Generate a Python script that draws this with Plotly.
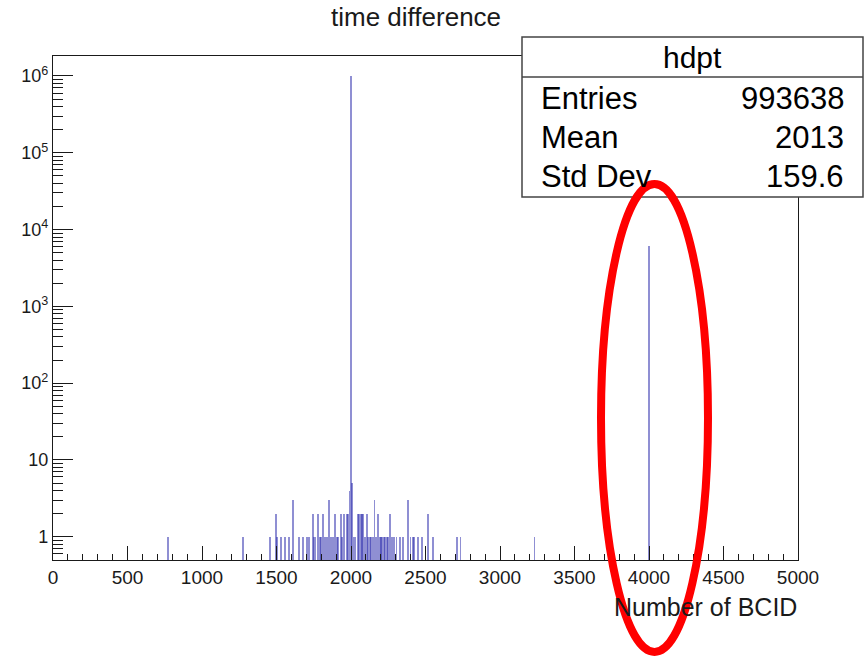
import plotly.graph_objects as go

# ---- data ----
bcid = [774, 1273, 1456, 1494, 1501, 1528, 1557, 1586, 1613, 1653, 1676, 1703,
        1720, 1743, 1752, 1762, 1781, 1790, 1800, 1814, 1822, 1832, 1842, 1852,
        1862, 1872, 1882, 1893, 1905, 1915, 1931, 1940, 1953, 1971, 1982, 1990,
        2000, 2008, 2020, 2030, 2045, 2055, 2065, 2075, 2083, 2095, 2105, 2115,
        2125, 2135, 2145, 2157, 2170, 2183, 2192, 2200, 2210, 2220, 2230, 2240,
        2250, 2262, 2275, 2290, 2306, 2330, 2351, 2385, 2400, 2414, 2425, 2452,
        2474, 2515, 2552, 2709, 2735, 3232, 4000]
counts = [1, 1, 1, 2, 1, 1, 1, 1, 3, 1, 1, 1,
          1, 2, 1, 1, 2, 1, 1, 2, 1, 1, 1, 3,
          1, 1, 1, 2, 1, 1, 2, 1, 2, 2, 2, 4,
          987400, 5, 1, 1, 2, 2, 2, 2, 2, 1, 2, 1,
          1, 1, 1, 3, 1, 2, 1, 1, 1, 1, 1, 1,
          1, 2, 1, 1, 1, 1, 1, 3, 1, 1, 1, 1,
          1, 2, 1, 1, 1, 1, 6100]

x_ticks = [0, 500, 1000, 1500, 2000, 2500, 3000, 3500, 4000, 4500, 5000]
y_ticks = [1, 10, 100, 1000, 10000, 100000, 1000000]
y_labels = ["1", "10", "10<sup>2</sup>", "10<sup>3</sup>", "10<sup>4</sup>",
            "10<sup>5</sup>", "10<sup>6</sup>"]

hist_title = "time difference"
x_title = "Number of BCID"
stats_name = "hdpt"
stats_labels = ["Entries", "Mean", "Std Dev"]
stats_values = ["993638", "2013", "159.6"]

FONT = "Liberation Sans, Arial, sans-serif"
INK = "#1a1a1a"

fig = go.Figure()
fig.add_trace(go.Bar(
    x=bcid, y=counts, width=12,
    marker=dict(color="rgba(40,40,170,0.52)", line=dict(width=0)),
    showlegend=False, hoverinfo="x+y",
))

W, H = 866, 661
L, R, T, B = 53, 68, 56, 101
PW, PH = W - L - R, H - T - B


def px(xp):
    return (xp - L) / PW


def py(yp):
    return (H - B - yp) / PH


fig.update_layout(
    width=W, height=H, autosize=False,
    margin=dict(l=L, r=R, t=T, b=B, pad=0),
    paper_bgcolor="white", plot_bgcolor="white",
    font=dict(family=FONT, color=INK),
    bargap=0,
    xaxis=dict(
        range=[0, 5000], tickmode="array", tickvals=x_ticks,
        ticktext=[str(v) for v in x_ticks],
        ticks="inside", ticklen=14, tickwidth=1, tickcolor=INK,
        showline=True, linecolor=INK, linewidth=1.2, mirror=True,
        showgrid=False, zeroline=False,
        tickfont=dict(size=19, family=FONT, color=INK),
        minor=dict(ticks="inside", ticklen=6, tickwidth=1, tickcolor=INK,
                   dtick=100, showgrid=False),
    ),
    yaxis=dict(
        type="log", range=[-0.303, 6.26], tickmode="array",
        tickvals=y_ticks, ticktext=y_labels,
        ticks="inside", ticklen=20, tickwidth=1, tickcolor=INK,
        showline=True, linecolor=INK, linewidth=1.2, mirror=True,
        showgrid=False, zeroline=False,
        tickfont=dict(size=18, family=FONT, color=INK),
        minor=dict(ticks="inside", ticklen=10, tickwidth=1, tickcolor=INK,
                   dtick="D1", showgrid=False),
    ),
)

shapes = []
# stats box
shapes.append(dict(type="rect", xref="paper", yref="paper",
                   x0=px(522), x1=px(863), y0=py(197), y1=py(37),
                   fillcolor="white", line=dict(color="#444", width=1.5),
                   layer="above"))
shapes.append(dict(type="line", xref="paper", yref="paper",
                   x0=px(522), x1=px(863), y0=py(77), y1=py(77),
                   line=dict(color="#444", width=1.5), layer="above"))
# red ellipse highlight
shapes.append(dict(type="circle", xref="paper", yref="paper",
                   x0=px(601), x1=px(708), y0=py(652), y1=py(184),
                   line=dict(color="#ff0000", width=8), layer="above"))
fig.update_layout(shapes=shapes)

ann = []
ann.append(dict(text=hist_title, xref="paper", yref="paper", x=px(416), y=py(17),
                xanchor="center", yanchor="middle", showarrow=False,
                font=dict(size=26, family=FONT, color=INK)))
ann.append(dict(text=x_title, xref="paper", yref="paper", x=px(799), y=py(607),
                xanchor="right", yanchor="middle", showarrow=False,
                font=dict(size=25, family=FONT, color=INK)))
ann.append(dict(text=stats_name, xref="paper", yref="paper", x=px(692), y=py(57),
                xanchor="center", yanchor="middle", showarrow=False,
                font=dict(size=30, family=FONT, color="black")))
rows_y = [98, 137, 176]
for lab, val, yy in zip(stats_labels, stats_values, rows_y):
    ann.append(dict(text=lab, xref="paper", yref="paper", x=px(539), y=py(yy),
                    xanchor="left", yanchor="middle", showarrow=False,
                    font=dict(size=31, family=FONT, color="black")))
    ann.append(dict(text=val, xref="paper", yref="paper", x=px(846), y=py(yy),
                    xanchor="right", yanchor="middle", showarrow=False,
                    font=dict(size=31, family=FONT, color="black")))
fig.update_layout(annotations=ann)

fig.write_html("out.html")
